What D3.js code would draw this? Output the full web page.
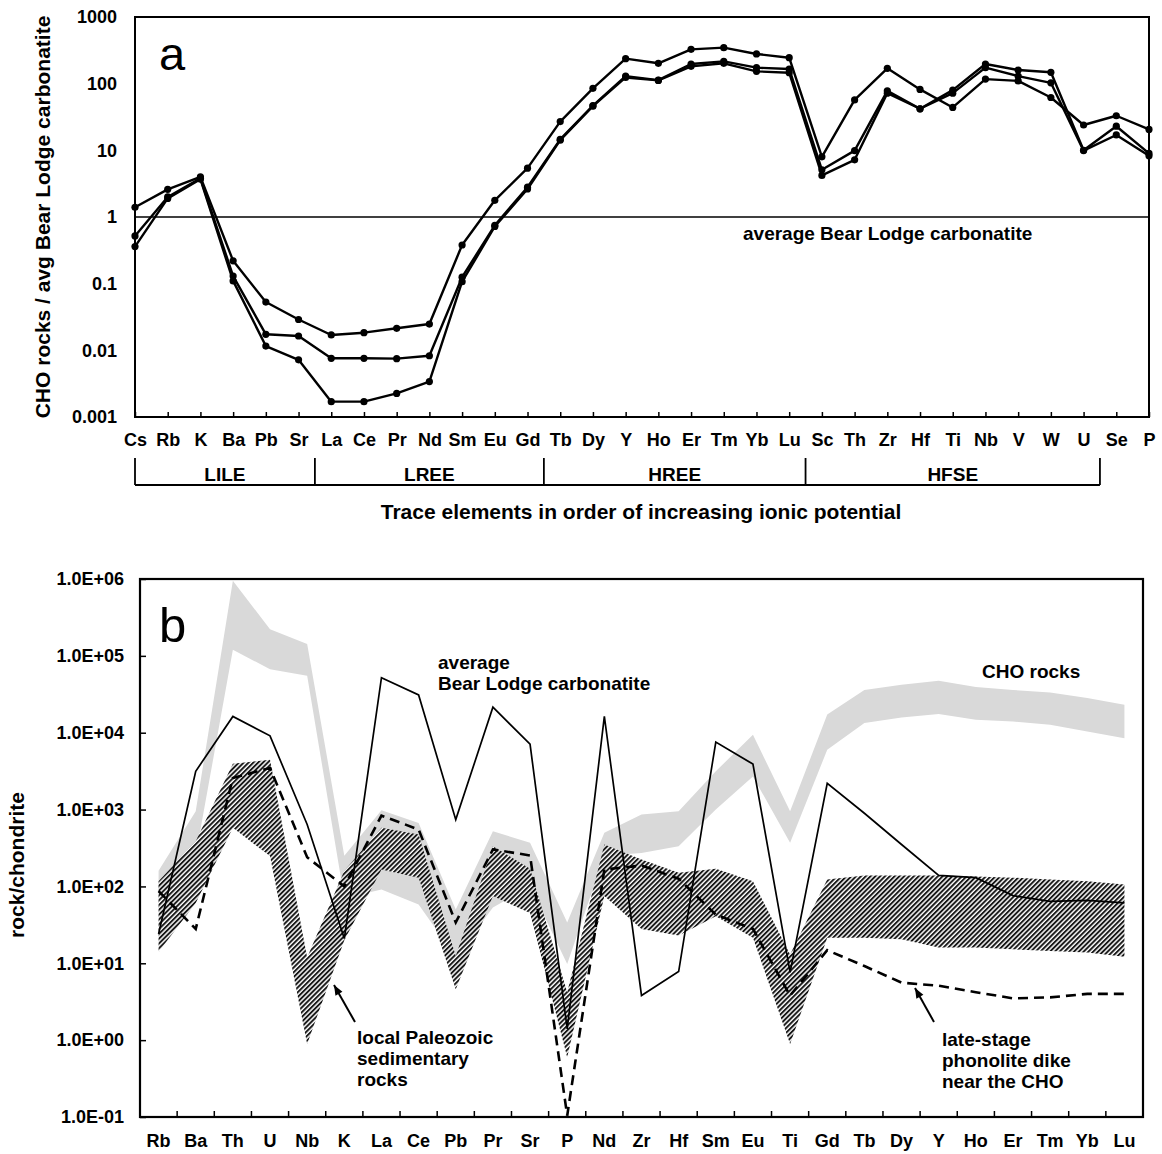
<!DOCTYPE html>
<html>
<head>
<meta charset="utf-8">
<script src="https://cdn.jsdelivr.net/npm/d3@7"></script>
<style>
  body { margin: 0; background: #fff; }
  svg { display: block; font-family: "Liberation Sans", Arial, sans-serif; font-weight: bold; }
</style>
</head>
<body>
<div id="chart"></div>
<script>
// panel a: CHO rocks normalised to average Bear Lodge carbonatite
const elementsA = ['Cs', 'Rb', 'K', 'Ba', 'Pb', 'Sr', 'La', 'Ce', 'Pr', 'Nd', 'Sm', 'Eu', 'Gd', 'Tb', 'Dy', 'Y', 'Ho', 'Er', 'Tm', 'Yb', 'Lu', 'Sc', 'Th', 'Zr', 'Hf', 'Ti', 'Nb', 'V', 'W', 'U', 'Se', 'P'];
const choSampleA = [1.4, 2.6, 4.0, 0.22, 0.053, 0.029, 0.017, 0.0184, 0.0214, 0.0248, 0.38, 1.78, 5.4, 27, 85, 237, 202, 327, 347, 279, 245, 8.0, 57, 170, 82, 44, 117, 110, 62, 24, 33, 20.6];
const choSampleB = [0.52, 2.0, 3.8, 0.13, 0.0174, 0.0164, 0.0076, 0.0076, 0.0075, 0.0083, 0.125, 0.75, 2.8, 14.6, 47, 130, 113, 197, 216, 174, 166, 5.1, 9.9, 78, 42, 80, 197, 160, 148, 10, 23, 9.0];
const choSampleC = [0.36, 1.9, 3.7, 0.11, 0.0116, 0.0072, 0.0017, 0.0017, 0.00226, 0.0034, 0.107, 0.72, 2.63, 14.2, 46, 124, 112, 182, 202, 153, 146, 4.2, 7.2, 72, 42, 72, 174, 130, 103, 9.9, 17, 8.3];
const ticksA = [0.001, 0.01, 0.1, 1, 10, 100, 1000];
const groupsA = [
  { name: 'LILE', first: 'Cs', last: 'Sr' },
  { name: 'LREE', first: 'La', last: 'Gd' },
  { name: 'HREE', first: 'Tb', last: 'Lu' },
  { name: 'HFSE', first: 'Sc', last: 'U' }
];

// panel b: chondrite normalised
const elementsB = ['Rb', 'Ba', 'Th', 'U', 'Nb', 'K', 'La', 'Ce', 'Pb', 'Pr', 'Sr', 'P', 'Nd', 'Zr', 'Hf', 'Sm', 'Eu', 'Ti', 'Gd', 'Tb', 'Dy', 'Y', 'Ho', 'Er', 'Tm', 'Yb', 'Lu'];
const carbonatite = [24, 3150, 16300, 9100, 640, 21, 52000, 31000, 740, 21500, 7100, 1.4, 16300, 3.8, 7.8, 7570, 3900, 7.6, 2200, 895, 351, 139, 130, 76, 64, 66, 61];
const phonolite = [87, 28, 2580, 3480, 240, 100, 835, 550, 34, 303, 253, 0.104, 166, 187, 126, 43, 28, 3.8, 14.8, 9.2, 5.6, 5.1, 4.2, 3.5, 3.6, 4.0, 4.0];
const choMax = [160, 950, 950000, 222000, 143000, 250, 980, 670, 50, 523, 370, 34, 500, 860, 950, 3150, 9400, 950, 17300, 36000, 42000, 47300, 39200, 36000, 33400, 28200, 23100];
const choMin = [50, 250, 120000, 67000, 55000, 70, 91, 58, 12, 53, 100, 9.8, 250, 273, 334, 1000, 2700, 370, 6000, 13400, 15800, 17500, 14800, 14000, 12700, 10400, 8500];
const sedMax = [117, 388, 3960, 4460, 11.9, 160, 578, 473, 12.4, 334, 170, 4.2, 351, 224, 151, 170, 117, 13, 123, 139, 139, 139, 135, 130, 123, 117, 106];
const sedMin = [14, 61, 578, 248, 0.89, 20, 166, 130, 4.6, 75, 45, 0.6, 75, 28, 23, 41, 21.5, 0.89, 21.5, 21.5, 20.5, 16, 16, 15.2, 14.5, 13.8, 12.2];
const ticksB = [0.1, 1, 10, 100, 1000, 10000, 100000, 1000000];

const W = 1162, H = 1154;
const svg = d3.select('#chart').append('svg').attr('width', W).attr('height', H);

// hatch for the sedimentary band
svg.append('defs').append('pattern')
  .attr('id', 'hatch')
  .attr('patternUnits', 'userSpaceOnUse')
  .attr('width', 3.4).attr('height', 3.4)
  .attr('patternTransform', 'rotate(45)')
  .call(p => p.append('rect').attr('width', 3.4).attr('height', 3.4).attr('fill', '#fff'))
  .append('line')
  .attr('x1', 1).attr('y1', 0).attr('x2', 1).attr('y2', 3.4)
  .attr('stroke', '#111').attr('stroke-width', 1.9);

// ---------- panel a ----------
const a = { left: 135, right: 1149, top: 17, bottom: 417 };
const xA = d3.scalePoint().domain(elementsA).range([a.left, a.right]);
const yA = d3.scaleLog().domain([0.001, 1000]).range([a.bottom, a.top]);
const gA = svg.append('g');

// reference line at 1
gA.append('line')
  .attr('x1', a.left).attr('x2', a.right)
  .attr('y1', yA(1)).attr('y2', yA(1))
  .attr('stroke', '#000').attr('stroke-width', 1.3);

gA.append('g')
  .attr('transform', 'translate(' + a.left + ',0)')
  .call(d3.axisLeft(yA).tickValues(ticksA).tickFormat(d3.format('~g')).tickSize(0).tickPadding(18))
  .call(g => g.select('.domain').remove())
  .selectAll('text').attr('font-size', 18).attr('font-family', null).attr('fill', '#000');

gA.append('g')
  .attr('transform', 'translate(0,' + a.bottom + ')')
  .call(d3.axisBottom(xA).tickSizeInner(-5).tickSizeOuter(0).tickPadding(16))
  .call(g => g.select('.domain').remove())
  .call(g => g.selectAll('line').attr('stroke', '#000').attr('stroke-width', 1.5))
  .selectAll('text').attr('font-size', 18).attr('font-family', null).attr('fill', '#000');

gA.append('rect')
  .attr('x', a.left).attr('y', a.top)
  .attr('width', a.right - a.left).attr('height', a.bottom - a.top)
  .attr('fill', 'none').attr('stroke', '#000').attr('stroke-width', 2);

const lineA = d3.line().x((d, i) => xA(elementsA[i])).y(d => yA(d));
[choSampleA, choSampleB, choSampleC].forEach(series => {
  gA.append('path')
    .datum(series)
    .attr('fill', 'none').attr('stroke', '#000')
    .attr('stroke-width', 2.4).attr('stroke-linejoin', 'round')
    .attr('d', lineA);
  gA.selectAll(null)
    .data(series)
    .enter().append('circle')
    .attr('cx', (d, i) => xA(elementsA[i]))
    .attr('cy', d => yA(d))
    .attr('r', 3.6).attr('fill', '#000');
});

gA.append('text').attr('x', 159).attr('y', 70)
  .attr('font-size', 47).attr('font-weight', 'normal').text('a');
gA.append('text').attr('x', 743).attr('y', 240)
  .attr('font-size', 19).text('average Bear Lodge carbonatite');
gA.append('text')
  .attr('transform', 'translate(43,' + (a.top + a.bottom) / 2 + ') rotate(-90)')
  .attr('text-anchor', 'middle').attr('dy', '0.35em')
  .attr('font-size', 21).text('CHO rocks / avg Bear Lodge carbonatite');

// element groups under the axis
const stepA = xA.step();
const bounds = groupsA.map((g, i) => i === 0 ? xA(g.first) : xA(g.first) - stepA / 2);
bounds.push(xA(groupsA[groupsA.length - 1].last) + stepA / 2);
const bracketY = 485;
gA.append('line')
  .attr('x1', bounds[0]).attr('x2', bounds[bounds.length - 1])
  .attr('y1', bracketY).attr('y2', bracketY)
  .attr('stroke', '#000').attr('stroke-width', 1.8);
gA.selectAll(null).data(bounds).enter().append('line')
  .attr('x1', d => d).attr('x2', d => d)
  .attr('y1', 458).attr('y2', bracketY)
  .attr('stroke', '#000').attr('stroke-width', 1.8);
gA.selectAll(null).data(groupsA).enter().append('text')
  .attr('x', (d, i) => (bounds[i] + bounds[i + 1]) / 2)
  .attr('y', 481).attr('text-anchor', 'middle')
  .attr('font-size', 19).text(d => d.name);
gA.append('text').attr('x', 641).attr('y', 519)
  .attr('text-anchor', 'middle').attr('font-size', 21)
  .text('Trace elements in order of increasing ionic potential');

// ---------- panel b ----------
const b = { left: 140, right: 1143, top: 579, bottom: 1117 };
const xB = d3.scaleBand().domain(elementsB).range([b.left, b.right]).padding(0);
const yB = d3.scaleLog().domain([0.1, 1e6]).range([b.bottom, b.top]);
const cx = d => xB(d) + xB.bandwidth() / 2;
const gB = svg.append('g');

const band = (lo, hi) => d3.area()
  .x((d, i) => cx(elementsB[i]))
  .y0((d, i) => yB(lo[i]))
  .y1((d, i) => yB(hi[i]))(elementsB);

gB.append('path').attr('d', band(choMin, choMax)).attr('fill', '#d9d9d9');
gB.append('path').attr('d', band(sedMin, sedMax)).attr('fill', 'url(#hatch)');

const lineB = d3.line().x((d, i) => cx(elementsB[i])).y(d => yB(d));
gB.append('path').datum(carbonatite)
  .attr('fill', 'none').attr('stroke', '#000').attr('stroke-width', 1.7)
  .attr('d', lineB);
gB.append('path').datum(phonolite)
  .attr('fill', 'none').attr('stroke', '#000').attr('stroke-width', 2.6)
  .attr('stroke-dasharray', '10,6')
  .attr('d', lineB);

const sciFmt = d => {
  const e = Math.round(Math.log10(d));
  return '1.0E' + (e < 0 ? '-' : '+') + String(Math.abs(e)).padStart(2, '0');
};
gB.append('g')
  .attr('transform', 'translate(' + b.left + ',0)')
  .call(d3.axisLeft(yB).tickValues(ticksB).tickFormat(sciFmt).tickSizeInner(-6).tickSizeOuter(0).tickPadding(16))
  .call(g => g.select('.domain').remove())
  .call(g => g.selectAll('line').attr('stroke', '#000').attr('stroke-width', 1.5))
  .selectAll('text').attr('font-size', 18).attr('font-family', null).attr('fill', '#000');

gB.append('g')
  .attr('transform', 'translate(0,' + b.bottom + ')')
  .call(d3.axisBottom(xB).tickSize(0).tickPadding(17))
  .call(g => g.select('.domain').remove())
  .selectAll('text').attr('font-size', 18).attr('font-family', null).attr('fill', '#000');

// tick marks between categories
gB.selectAll(null).data(elementsB.slice(1)).enter().append('line')
  .attr('x1', d => xB(d)).attr('x2', d => xB(d))
  .attr('y1', b.bottom).attr('y2', b.bottom - 6)
  .attr('stroke', '#000').attr('stroke-width', 1.5);

gB.append('rect')
  .attr('x', b.left).attr('y', b.top)
  .attr('width', b.right - b.left).attr('height', b.bottom - b.top)
  .attr('fill', 'none').attr('stroke', '#000').attr('stroke-width', 2.2);

gB.append('text').attr('x', 159).attr('y', 642)
  .attr('font-size', 49).attr('font-weight', 'normal').text('b');

const multi = (x, y, lines) => {
  const t = gB.append('text').attr('x', x).attr('y', y).attr('font-size', 19);
  lines.forEach((l, i) => t.append('tspan').attr('x', x).attr('dy', i === 0 ? 0 : 21).text(l));
};
multi(438, 669, ['average', 'Bear Lodge carbonatite']);
multi(982, 678, ['CHO rocks']);
multi(357, 1044, ['local Paleozoic', 'sedimentary', 'rocks']);
multi(942, 1046, ['late-stage', 'phonolite dike', 'near the CHO']);

gB.append('text')
  .attr('transform', 'translate(17,865) rotate(-90)')
  .attr('text-anchor', 'middle').attr('dy', '0.35em')
  .attr('font-size', 21).text('rock/chondrite');

// arrows
const arrow = (x1, y1, x2, y2) => {
  gB.append('line').attr('x1', x1).attr('y1', y1).attr('x2', x2).attr('y2', y2)
    .attr('stroke', '#000').attr('stroke-width', 2);
  const ang = Math.atan2(y2 - y1, x2 - x1);
  const len = 10, wid = 4;
  const bx = x2 - len * Math.cos(ang), by = y2 - len * Math.sin(ang);
  gB.append('path')
    .attr('d', 'M' + x2 + ',' + y2 +
      'L' + (bx + wid * Math.sin(ang)) + ',' + (by - wid * Math.cos(ang)) +
      'L' + (bx - wid * Math.sin(ang)) + ',' + (by + wid * Math.cos(ang)) + 'Z')
    .attr('fill', '#000');
};
arrow(355, 1022, 334, 985);
arrow(934, 1022, 915, 988);
</script>
</body>
</html>
